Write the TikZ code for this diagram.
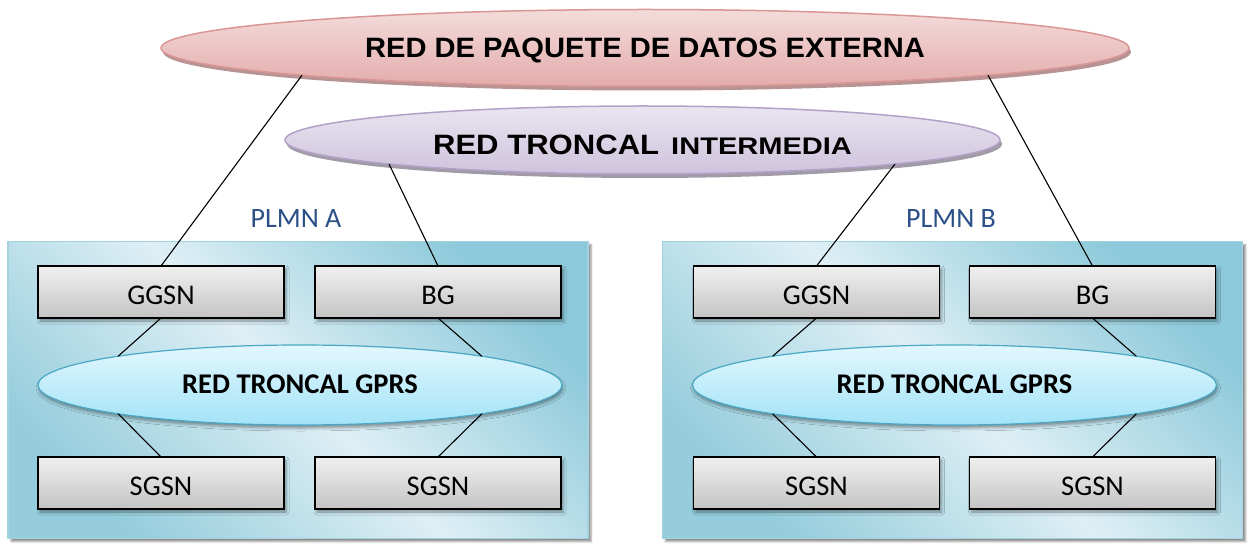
\documentclass[tikz,border=0pt]{standalone}
\usepackage{fontspec}
\setmainfont{Carlito}
\newfontfamily\arialfont{Liberation Sans}
\usetikzlibrary{shapes.geometric,shadows,shadows.blur,calc}

\definecolor{plmnedge}{HTML}{A3D3E0}
\definecolor{plmndark}{HTML}{8CC9DA}
\definecolor{plmnlight}{HTML}{DEEFF5}
\definecolor{plmnbot}{HTML}{95CDDC}
\definecolor{unittop}{HTML}{F0F0F0}
\definecolor{unitbot}{HTML}{C4C4C4}
\definecolor{gprsedge}{HTML}{4AA8C4}
\definecolor{gprstop}{HTML}{E2F7FD}
\definecolor{gprsbot}{HTML}{A3E3F8}
\definecolor{extedge}{HTML}{D99694}
\definecolor{exttop}{HTML}{F3DCDB}
\definecolor{extbot}{HTML}{E3ACAB}
\definecolor{extshadow}{HTML}{B79393}
\definecolor{midedge}{HTML}{B3A2C7}
\definecolor{midtop}{HTML}{E9E5F0}
\definecolor{midbot}{HTML}{CEC3DD}
\definecolor{midshadow}{HTML}{A19BA8}
\definecolor{plmntext}{HTML}{2B5088}

\begin{document}
\begin{tikzpicture}[x=1pt,y=-1pt,
  plmn/.style={draw=plmnedge, line width=1.5pt,
    top color=plmndark, bottom color=plmnbot, middle color=plmnlight,
    shading angle=-45,
    minimum width=580pt, minimum height=297pt, inner sep=0pt, outer sep=0pt,
    blur shadow={shadow xshift=3pt, shadow yshift=-3pt, shadow blur radius=2pt, shadow opacity=45}},
  unit/.style={draw=black, line width=1.5pt,
    top color=unittop, bottom color=unitbot,
    minimum width=246pt, minimum height=52pt, inner sep=0pt, outer sep=0pt,
    font=\fontsize{28.5}{30}\selectfont, text height=25pt, text depth=0pt,
    blur shadow={shadow xshift=2pt, shadow yshift=-3pt, shadow blur radius=3pt}},
  gprs/.style={ellipse, draw=gprsedge, line width=1.2pt,
    top color=gprstop, bottom color=gprsbot,
    minimum width=524pt, minimum height=80pt, inner sep=0pt, outer sep=0pt,
    font=\bfseries\fontsize{28.5}{30}\selectfont, text height=18pt, text depth=0pt,
    blur shadow={shadow xshift=1pt, shadow yshift=-3pt, shadow blur radius=3pt}},
  extnet/.style={ellipse, draw=extedge, line width=1.5pt,
    top color=exttop, bottom color=extbot,
    minimum width=968pt, minimum height=77pt, inner sep=0pt, outer sep=0pt,
    font=\arialfont\bfseries\fontsize{28}{30}\selectfont, text height=20pt, text depth=0pt,
    drop shadow={shadow xshift=2pt, shadow yshift=-4pt, fill=extshadow, opacity=1}},
  midnet/.style={ellipse, draw=midedge, line width=1.5pt,
    top color=midtop, bottom color=midbot,
    minimum width=715pt, minimum height=68pt, inner sep=0pt, outer sep=0pt,
    font=\arialfont\bfseries, text height=30pt, text depth=0pt,
    drop shadow={shadow xshift=2pt, shadow yshift=-4pt, fill=midshadow, opacity=1}},
  plmnlabel/.style={text=plmntext, font=\fontsize{28}{30}\selectfont, inner sep=0pt},
  link/.style={draw=black, line width=1.1pt}
]
\useasboundingbox (0,0) rectangle (1251,545);

% operator networks
\node[plmn] (plmnA) at (298,390) {};
\node[plmn] (plmnB) at (952.5,390) {};

% shared networks on top
\node[extnet] (ext) at (645,48) {\scalebox{1.04}[1]{RED DE PAQUETE DE DATOS EXTERNA}};
\node[midnet] (mid) at (642.5,140)
  {\scalebox{1.11}[1]{\fontsize{28}{30}\selectfont RED TRONCAL}\hspace{12pt}\scalebox{1.21}[1]{\fontsize{24}{26}\selectfont INTERMEDIA}};

% attachment points on the lower rim of the shared networks
\coordinate (extL) at ($(ext.center)+(-343,27.2)$);
\coordinate (extR) at ($(ext.center)+(343,27.2)$);
\coordinate (midL) at ($(mid.center)+(-253.5,24)$);
\coordinate (midR) at ($(mid.center)+(252.5,24)$);

% PLMN A
\node[unit] (ggsnA) at (161,292) {GGSN};
\node[unit] (bgA) at (438,292) {BG};
\node[unit] (sgsnA1) at (161,483) {SGSN};
\node[unit] (sgsnA2) at (438,483) {SGSN};
\node[gprs] (gprsA) at (300,385) {RED TRONCAL GPRS};
\node[plmnlabel] (labA) at (296,219) {PLMN A};

% PLMN B
\node[unit] (ggsnB) at (816.5,292) {GGSN};
\node[unit] (bgB) at (1092.5,292) {BG};
\node[unit] (sgsnB1) at (816.5,483) {SGSN};
\node[unit] (sgsnB2) at (1092.5,483) {SGSN};
\node[gprs] (gprsB) at (954.5,385) {RED TRONCAL GPRS};
\node[plmnlabel] (labB) at (951,219) {PLMN B};

% links to the shared networks
\draw[link] (ggsnA.north) -- (extL);
\draw[link] (bgA.north) -- (midL);
\draw[link] (ggsnB.north) -- (midR);
\draw[link] (bgB.north) -- (extR);

% links inside PLMN A
\draw[link] (ggsnA.south) -- (gprsA.171);
\draw[link] (bgA.south) -- (gprsA.9);
\draw[link] (sgsnA1.north) -- (gprsA.189);
\draw[link] (sgsnA2.north) -- (gprsA.351);

% links inside PLMN B
\draw[link] (ggsnB.south) -- (gprsB.171);
\draw[link] (bgB.south) -- (gprsB.9);
\draw[link] (sgsnB1.north) -- (gprsB.189);
\draw[link] (sgsnB2.north) -- (gprsB.351);
\end{tikzpicture}
\end{document}
